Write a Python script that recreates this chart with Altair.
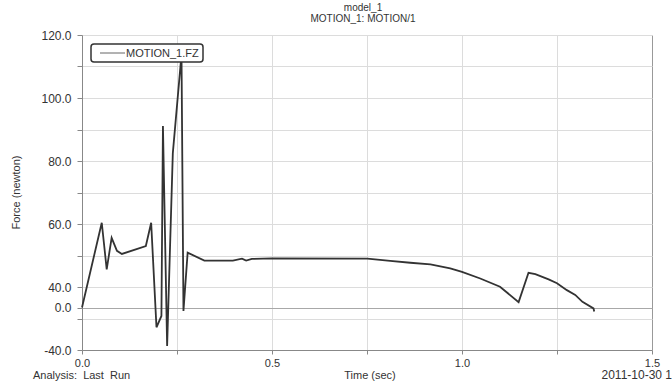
import altair as alt
import pandas as pd

# ---- data (axis units of the plotted scale) ----
time_s = [0.000, 0.052, 0.065, 0.078, 0.092, 0.105, 0.168, 0.182, 0.196, 0.209,
          0.213, 0.224, 0.239, 0.260, 0.262, 0.267, 0.278, 0.322, 0.397, 0.421,
          0.432, 0.447, 0.500, 0.751, 0.811, 0.864, 0.917, 0.969, 1.000, 1.048,
          1.100, 1.149, 1.175, 1.193, 1.228, 1.250, 1.276, 1.298, 1.317, 1.346,
          1.348]
force = [33.5, 60.4, 45.6, 55.6, 51.5, 50.5, 53.0, 60.4, 27.2, 30.8,
         91.1, 21.3, 82.5, 111.3, 111.4, 32.4, 50.9, 48.4, 48.4, 49.0,
         48.4, 48.9, 49.1, 49.0, 48.3, 47.7, 47.2, 45.9, 44.8, 42.7,
         40.1, 35.2, 44.5, 44.1, 42.4, 41.2, 39.0, 37.5, 35.3, 33.2,
         32.2]

y_tick_values = [120, 110, 100, 90, 80, 70, 60, 50, 40, 33.43, 30, 20]
y_tick_labels = ["120.0", "", "100.0", "", "80.0", "", "60.0", "", "40.0", "0.0", "", "-40.0"]
x_tick_values = [0, 0.25, 0.5, 0.75, 1.0, 1.25, 1.5]
x_tick_labels = ["0.0", "", "0.5", "", "1.0", "", "1.5"]

title_lines = ["model_1", "MOTION_1: MOTION/1"]
legend_label = "MOTION_1.FZ"
x_title = "Time (sec)"
y_title = "Force (newton)"
footer_left = "Analysis:\u00a0 Last\u00a0 Run"
footer_right = "2011-10-30 1"

FONT = "Liberation Sans"
TXT = "#333333"


def label_expr(vals, labs):
    expr = "''"
    for v, l in reversed(list(zip(vals, labs))):
        expr = f"abs(datum.value - {v}) < 1e-6 ? '{l}' : ({expr})"
    return expr


df = pd.DataFrame({"t": time_s, "f": force, "i": list(range(len(time_s)))})
one = pd.DataFrame({"a": [1]})

x_axis = alt.Axis(
    values=x_tick_values, labelExpr=label_expr(x_tick_values, x_tick_labels),
    title=None, tickSize=4, tickColor="#888888", domainColor="#888888",
    labelFont=FONT, labelFontSize=11, labelColor=TXT, labelPadding=3,
    labelFlush=False, labelOverlap=False, labelBound=False,
    grid=True,
    gridColor={"condition": {"test": "abs(datum.value - 1.5) < 1e-6", "value": "#999999"},
               "value": "#dcdcdc"},
)
y_axis = alt.Axis(
    values=y_tick_values, labelExpr=label_expr(y_tick_values, y_tick_labels),
    title=None, tickSize=5, tickColor="#888888", domainColor="#888888",
    labelFont=FONT, labelFontSize=12, labelColor=TXT, labelPadding=6,
    labelOverlap=False, labelBound=False, labelFlush=False,
    grid=True,
    gridColor={"condition": {"test": "abs(datum.value - 33.43) < 1e-6", "value": "#a8a8a8"},
               "value": "#dcdcdc"},
)

line = alt.Chart(df).mark_line(color="#333333", strokeWidth=1.8).encode(
    x=alt.X("t:Q", scale=alt.Scale(domain=[0, 1.5], nice=False), axis=x_axis),
    y=alt.Y("f:Q", scale=alt.Scale(domain=[20, 120], nice=False, zero=False), axis=y_axis),
    order=alt.Order("i:Q"),
)

legend_box = alt.Chart(one).mark_rect(
    fill="white", stroke="#333333", strokeWidth=1.5, cornerRadius=3
).encode(x=alt.value(9), x2=alt.value(121), y=alt.value(9), y2=alt.value(27))

legend_line = alt.Chart(one).mark_rule(color="#666666", strokeWidth=1).encode(
    x=alt.value(18), x2=alt.value(43), y=alt.value(18))

legend_text = alt.Chart(one).mark_text(
    align="left", baseline="middle", font=FONT, fontSize=11, color=TXT
).encode(x=alt.value(44), y=alt.value(18.5), text=alt.value(legend_label))

title1 = alt.Chart(one).mark_text(
    align="center", baseline="middle", font=FONT, fontSize=10, color=TXT
).encode(x=alt.value(281), y=alt.value(-27), text=alt.value(title_lines[0]))

title2 = alt.Chart(one).mark_text(
    align="center", baseline="middle", font=FONT, fontSize=10, color=TXT
).encode(x=alt.value(281), y=alt.value(-16), text=alt.value(title_lines[1]))

xt = alt.Chart(one).mark_text(
    align="center", baseline="middle", font=FONT, fontSize=11, color=TXT
).encode(x=alt.value(288), y=alt.value(341), text=alt.value(x_title))

yt = alt.Chart(one).mark_text(
    align="center", baseline="middle", font=FONT, fontSize=11, color=TXT, angle=270
).encode(x=alt.value(-65), y=alt.value(157.5), text=alt.value(y_title))

fl = alt.Chart(one).mark_text(
    align="left", baseline="middle", font=FONT, fontSize=11, color=TXT
).encode(x=alt.value(-49), y=alt.value(341), text=alt.value(footer_left))

fr = alt.Chart(one).mark_text(
    align="right", baseline="middle", font=FONT, fontSize=12, color=TXT
).encode(x=alt.value(590), y=alt.value(340), text=alt.value(footer_right))

chart = alt.layer(
    line, legend_box, legend_line, legend_text, title1, title2, xt, yt, fl, fr
).properties(
    width=570, height=315,
    autosize=alt.AutoSizeParams(type="none"),
    padding={"left": 82, "top": 35, "right": 20, "bottom": 33},
    background="white",
).configure_view(stroke="transparent")

chart.save("out.html", embed_options={"renderer": "svg", "actions": False})
